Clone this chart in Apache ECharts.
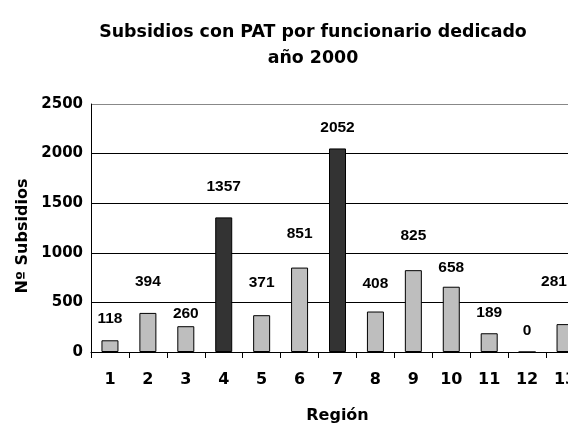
<!DOCTYPE html>
<html>
<head>
<meta charset="utf-8">
<script src="https://cdn.jsdelivr.net/npm/echarts@6/dist/echarts.min.js"></script>
<style>
  html, body { margin: 0; padding: 0; background: #fff; }
  #chart { width: 568px; height: 424px; }
</style>
</head>
<body>
<div id="chart"></div>
<script>
var regions = ['1', '2', '3', '4', '5', '6', '7', '8', '9', '10', '11', '12', '13']
var subsidios = [118, 394, 260, 1357, 371, 851, 2052, 408, 825, 658, 189, 0, 281]
var highlighted = ['4', '7']
// where each bar's number sits relative to the bar top, in px
var labelLift = [14, 23, 4, 23, 24, 26, 13, 20, 26, 11, 13, 13, 34]
var labelShift = [0, 0, 0, 0, 0, 0, 0, 0, 0, 0, 0, 0, -11]

var WIDE = '"DejaVu Sans", Verdana, sans-serif'
var NARROW = '"Liberation Sans", Arial, sans-serif'

var barData = subsidios.map(function (v, i) {
  var dark = highlighted.indexOf(regions[i]) >= 0
  return {
    value: v,
    itemStyle: { color: dark ? '#333333' : '#bebebe' },
    label: { distance: labelLift[i], offset: [labelShift[i], 0] },
  }
})

var chart = echarts.init(document.getElementById('chart'), null, { renderer: 'canvas' })
chart.setOption({
  animation: false,
  backgroundColor: '#ffffff',
  title: {
    text: 'Subsidios con PAT por funcionario dedicado\naño 2000',
    left: 308,
    top: 14,
    textAlign: 'center',
    textStyle: {
      fontFamily: WIDE,
      fontSize: 17.4,
      fontWeight: 'bold',
      color: '#000',
      lineHeight: 26,
    },
  },
  grid: {
    left: 91,
    top: 104,
    right: -16,
    bottom: 72,
    containLabel: false,
    outerBoundsMode: 'none',
  },
  xAxis: {
    type: 'category',
    data: regions,
    name: 'Región',
    nameLocation: 'middle',
    nameGap: 56,
    nameTextStyle: {
      fontFamily: WIDE, fontSize: 16, fontWeight: 'bold', color: '#000',
    },
    axisLine: { lineStyle: { color: '#000', width: 1 } },
    axisTick: { show: true, alignWithLabel: false, length: 6, lineStyle: { color: '#000' } },
    axisLabel: {
      margin: 20,
      fontFamily: WIDE, fontSize: 16, fontWeight: 'bold', color: '#000',
    },
  },
  yAxis: {
    type: 'value',
    min: 0,
    max: 2500,
    interval: 500,
    name: 'Nº Subsidios',
    nameLocation: 'middle',
    nameGap: 58,
    nameRotate: 90,
    nameTextStyle: {
      fontFamily: WIDE, fontSize: 16, fontWeight: 'bold', color: '#000',
      padding: [0, 16, 0, 0],
    },
    axisLine: { show: true, lineStyle: { color: '#000', width: 1 } },
    axisTick: { show: false },
    axisLabel: {
      margin: 8,
      fontFamily: WIDE, fontSize: 15, fontWeight: 'bold', color: '#000',
      formatter: function (v) { return String(v) },
    },
    splitLine: {
      show: true,
      lineStyle: { color: ['#000', '#000', '#000', '#000', '#000', '#888'], width: 1 },
    },
  },
  series: [
    {
      type: 'bar',
      data: barData,
      barWidth: 17,
      itemStyle: { borderColor: '#000', borderWidth: 1 },
      label: {
        show: true,
        position: 'top',
        fontFamily: NARROW,
        fontSize: 15.5,
        fontWeight: 'bold',
        color: '#000',
      },
    },
  ],
})
</script>
</body>
</html>
